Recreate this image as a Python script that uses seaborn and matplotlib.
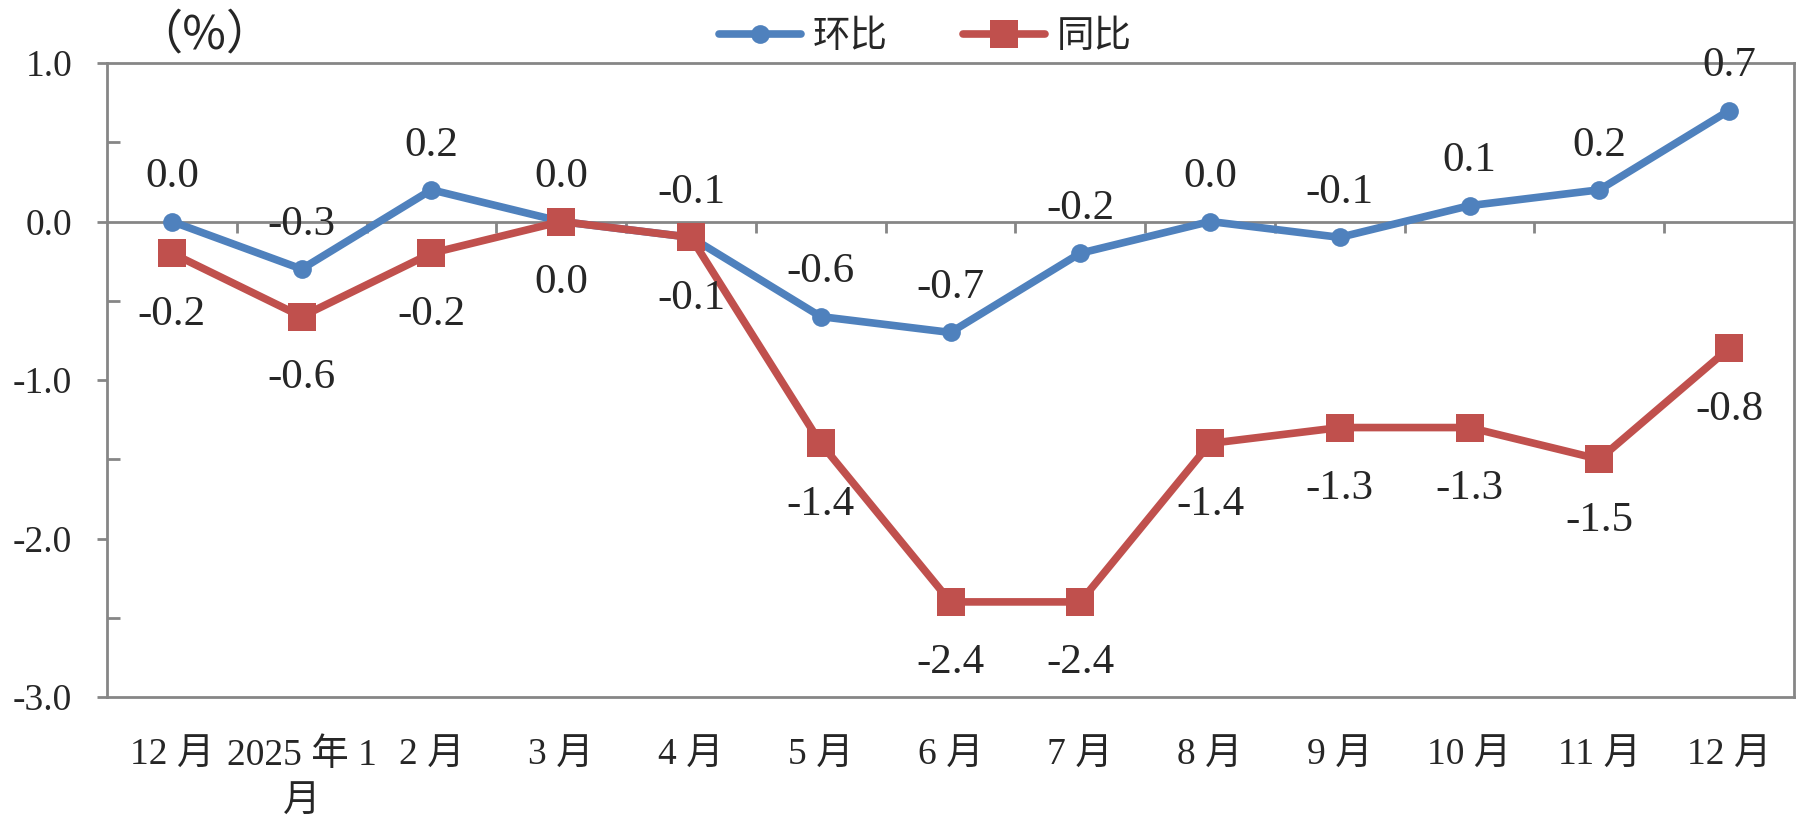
import numpy as np
import pandas as pd
import matplotlib
matplotlib.use("Agg")
import matplotlib.pyplot as plt
import seaborn as sns

months = ["12 月", "2025 年 1\n月", "2 月", "3 月", "4 月", "5 月", "6 月", "7 月",
          "8 月", "9 月", "10 月", "11 月", "12 月"]
mom = [0.0, -0.3, 0.2, 0.0, -0.1, -0.6, -0.7, -0.2, 0.0, -0.1, 0.1, 0.2, 0.7]
yoy = [-0.2, -0.6, -0.2, 0.0, -0.1, -1.4, -2.4, -2.4, -1.4, -1.3, -1.3, -1.5, -0.8]

sns.set_style("white")
plt.rcParams['font.family'] = ['Liberation Serif', 'Noto Sans CJK SC']

GRAY = '#868686'
BLUE = '#4F81BD'
RED = '#C0504D'

df = pd.DataFrame({'pos': np.arange(len(months)), '环比': mom, '同比': yoy})

fig = plt.figure(figsize=(18.11, 8.32), dpi=100)
ax = fig.add_axes([107 / 1811, 1 - 697 / 832, (1794 - 107) / 1811, (697 - 63) / 832])

# zero line with short separators between the months (category axis crossing at 0)
ax.axhline(0, color=GRAY, lw=2, zorder=1)
bounds = np.arange(len(months) - 1) + 0.5
ax.vlines(bounds, -0.075, 0, color=GRAY, lw=2, zorder=1)

sns.lineplot(data=df, x='pos', y='环比', ax=ax, color=BLUE, lw=5.5, marker='o',
             markersize=13.5, markeredgewidth=0, label='环比', sort=False, zorder=3)
sns.lineplot(data=df, x='pos', y='同比', ax=ax, color=RED, lw=5.5, marker='s',
             markersize=20, markeredgewidth=0, label='同比', sort=False, zorder=3)

fs = 27
lfs = 31
for i, v in enumerate(mom):
    ax.annotate(f"{v:.1f}", (i, v), xytext=(0, 32), textcoords='offset points',
                ha='center', va='center', fontsize=lfs)
for i, v in enumerate(yoy):
    ax.annotate(f"{v:.1f}", (i, v), xytext=(0, -44), textcoords='offset points',
                ha='center', va='center', fontsize=lfs)

ax.set_xlim(-0.5, len(months) - 0.5)
ax.set_ylim(-3, 1)
ax.set_xticks(np.arange(len(months)))
ax.set_xticklabels(months, fontsize=fs, linespacing=1.45, va='top')
ax.tick_params(axis='x', which='major', length=0, pad=30)
ax.set_yticks([1, 0, -1, -2, -3])
ax.set_yticklabels([f"{t:.1f}" for t in [1, 0, -1, -2, -3]], fontsize=fs)
ax.set_yticks(np.arange(-2.5, 1, 1.0), minor=True)
ax.tick_params(axis='y', which='major', direction='out', length=7, width=2,
               color=GRAY, pad=18, left=True)
ax.tick_params(axis='y', which='minor', direction='in', length=9, width=2,
               color=GRAY, left=True)
ax.set_xlabel('')
ax.set_ylabel('')
for s in ax.spines.values():
    s.set_color(GRAY)
    s.set_linewidth(2)

ax.legend(loc='center', ncol=2, frameon=False, fontsize=27,
          handlelength=2.2, columnspacing=2.0, handletextpad=0.3)
leg = ax.get_legend()
leg.set_bbox_to_anchor((925 / 1811, 1 - 38 / 832), transform=fig.transFigure)

fig.text(204 / 1811, 1 - 35 / 832, '（%）', fontsize=34, ha='center', va='center',
         family=['Noto Sans CJK SC', 'Noto Sans CJK JP'])

fig.savefig('out.png', dpi=100)
